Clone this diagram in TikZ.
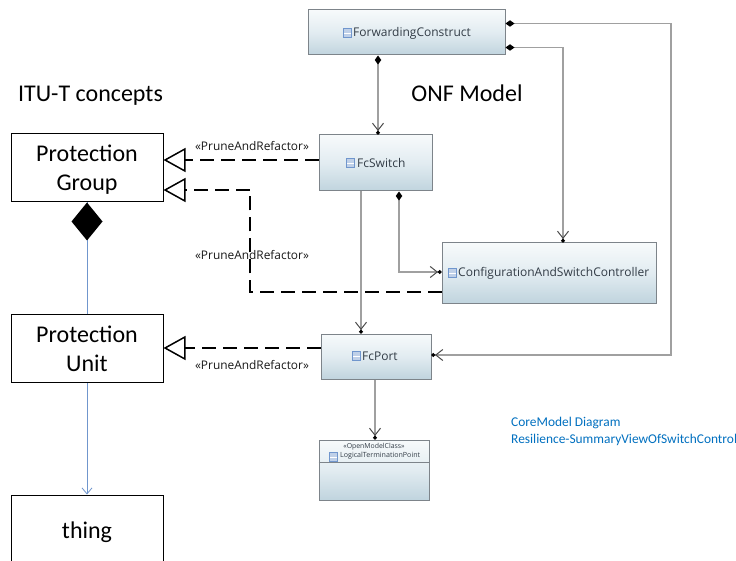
\documentclass[tikz,border=0pt]{standalone}
\usepackage{fontspec}
\setmainfont{Carlito}
\newfontfamily\umlfont{Open Sans}
\usetikzlibrary{arrows.meta,shadings}
\definecolor{umlline}{RGB}{160,160,160}
\definecolor{umlborder}{RGB}{125,132,138}
\definecolor{umltext}{RGB}{50,60,70}
\definecolor{linkblue}{RGB}{0,112,192}
\definecolor{assocblue}{RGB}{112,150,205}
\definecolor{umlbottom}{RGB}{192,212,222}
\definecolor{umlmid}{RGB}{226,236,241}
\definecolor{umltop}{RGB}{247,250,251}
\newcommand{\lowered}[2]{\raisebox{-#1pt}[0pt][0pt]{#2}}
\tikzset{
  umlbox/.style={draw=umlborder,line width=1pt,top color=umltop,bottom color=umlbottom,middle color=umlmid,minimum width=#1,inner sep=0pt},
  umllabel/.style={anchor=west,inner sep=0pt,text=umltext,font=\umlfont\fontsize{12}{14}\selectfont},
  conceptbox/.style={draw=black,line width=1pt,fill=white,minimum width=152pt,minimum height=68pt,inner sep=0pt,align=center,
    font=\fontsize{24}{29}\selectfont},
  assoc/.style={draw=umlline,line width=1.3pt},
  both/.style={{Diamond[black,length=9pt,width=6.5pt]}-{Straight Barb[black!70,length=7pt,width=11pt,line width=1pt] Circle[black,length=3.5pt]}},
  endonly/.style={-{Straight Barb[black!70,length=7pt,width=11pt,line width=1pt] Circle[black,length=3.5pt]}},
  realize/.style={draw=black,line width=1.7pt,dash pattern=on 14pt off 7pt,-{Triangle[open,fill=white,length=22pt,width=24pt,line width=1.5pt]}},
  stereo/.style={font=\umlfont\fontsize{11.9}{14}\selectfont,text=black!90,inner sep=0pt},
  heading/.style={anchor=base,font=\fontsize{24}{28}\selectfont,inner sep=0pt},
  bluenote/.style={font=\fontsize{13.4}{17}\selectfont,text=linkblue,align=left,inner sep=0pt},
  icon/.style={draw=assocblue,fill=assocblue!45,line width=.7pt,minimum width=8pt,minimum height=9pt,inner sep=0pt,
    path picture={\draw[white,line width=.6pt] (path picture bounding box.west) -- (path picture bounding box.east);}},
}
\begin{document}
\begin{tikzpicture}[x=1pt,y=-1pt]
\useasboundingbox (0,0) rectangle (736,561);
\fill[white] (0,0) rectangle (736,561);

% UML boxes
\node[umlbox=197pt,minimum height=45pt] (fc) at (406.5,32.5) {};
\node[umlbox=113pt,minimum height=56pt] (sw) at (375.5,163) {};
\node[umlbox=214pt,minimum height=60pt] (cfg) at (549,273) {};
\node[umlbox=110pt,minimum height=45pt] (port) at (376,356.5) {};
\node[umlbox=110pt,minimum height=60pt] (ltp) at (374,470) {};

% UML labels
\node[icon] (i1) at (347,33) {};
\node[umllabel] (t1) at (353,33) {ForwardingConstruct};
\node[icon] (i2) at (350,163) {};
\node[umllabel] (t2) at (357,163) {FcSwitch};
\node[icon] (i3) at (452,273) {};
\node[umllabel] (t3) at (458,273) {ConfigurationAndSwitchController};
\node[icon] (i4) at (356,356) {};
\node[umllabel] (t4) at (362,356) {FcPort};
\node[inner sep=0pt,text=umltext,font=\umlfont\fontsize{6.9}{8}\selectfont] (t5) at (374,447) {«OpenModelClass»};
\node[icon,minimum width=8pt,minimum height=9pt] (i5) at (333,457) {};
\node[umllabel,font=\umlfont\fontsize{7.1}{8}\selectfont] (t6) at (340,456) {LogicalTerminationPoint};
\draw[umlborder,line width=.8pt] (ltp.west |- 0,462) coordinate (ltpl) -- (ltp.east |- 0,462) coordinate (ltpr);

% associations
\draw[assoc,both] ([xshift=-28.5pt]fc.south) -- ([xshift=2.5pt]sw.north);
\draw[assoc,both] ([yshift=-14pt]fc.north east) -| (671,355) -- ([yshift=1.5pt]port.east);
\draw[assoc,both] ([yshift=8pt]fc.south east) -| ([xshift=14pt]cfg.north);
\draw[assoc,both] ([xshift=23.5pt]sw.south) |- ([yshift=1pt]cfg.west);
\draw[assoc,endonly] ([xshift=-14.5pt]sw.south) -- ([xshift=-15pt]port.north);
\draw[assoc,endonly] ([xshift=-1pt]port.south) -- ([xshift=1pt]ltp.north);

% concept boxes
\node[conceptbox] (pg) at (87,168) {\lowered{8.5}{Protection}\\\lowered{8.5}{Group}};
\node[conceptbox] (pu) at (87,348.5) {\lowered{8.5}{Protection}\\\lowered{8.5}{Unit}};
\begin{scope}
\clip (0,0) rectangle (736,561);
\node[conceptbox,minimum height=72pt] (thing) at (87,531) {\lowered{7}{thing}};
\end{scope}

% blue links
\draw[assocblue,line width=1pt] (pu.north) -- (pg.south);
\draw[assocblue,line width=1pt,-{Straight Barb[length=6pt,width=10pt,line width=.8pt]}] (pu.south) -- (thing.north);
\fill[black] (pg.south) -- ++(15.5,19) -- ++(-15.5,19) -- ++(-15.5,-19) -- cycle;

% realizations
\draw[realize] ([yshift=3pt]sw.west) -- ([yshift=8pt]pg.east);
\coordinate (bend) at (250,292);
\draw[realize] ([yshift=-19pt]cfg.west) -- (bend) -- (250,190) -- ([yshift=-22pt]pg.east);
\draw[realize] ([yshift=8.5pt]port.west) -- ([yshift=.5pt]pu.east);

% labels
\node[stereo] (s1) at (252,146) {«PruneAndRefactor»};
\node[stereo] (s2) at (252,255) {«PruneAndRefactor»};
\node[stereo] (s3) at (252,365) {«PruneAndRefactor»};
\node[heading] (h1) at (90.5,102) {ITU-T concepts};
\node[heading] (h2) at (467,102) {ONF Model};
\node[bluenote,anchor=north west] (n1) at (511,417) {CoreModel Diagram\\Resilience-SummaryViewOfSwitchControl};
\end{tikzpicture}
\end{document}
